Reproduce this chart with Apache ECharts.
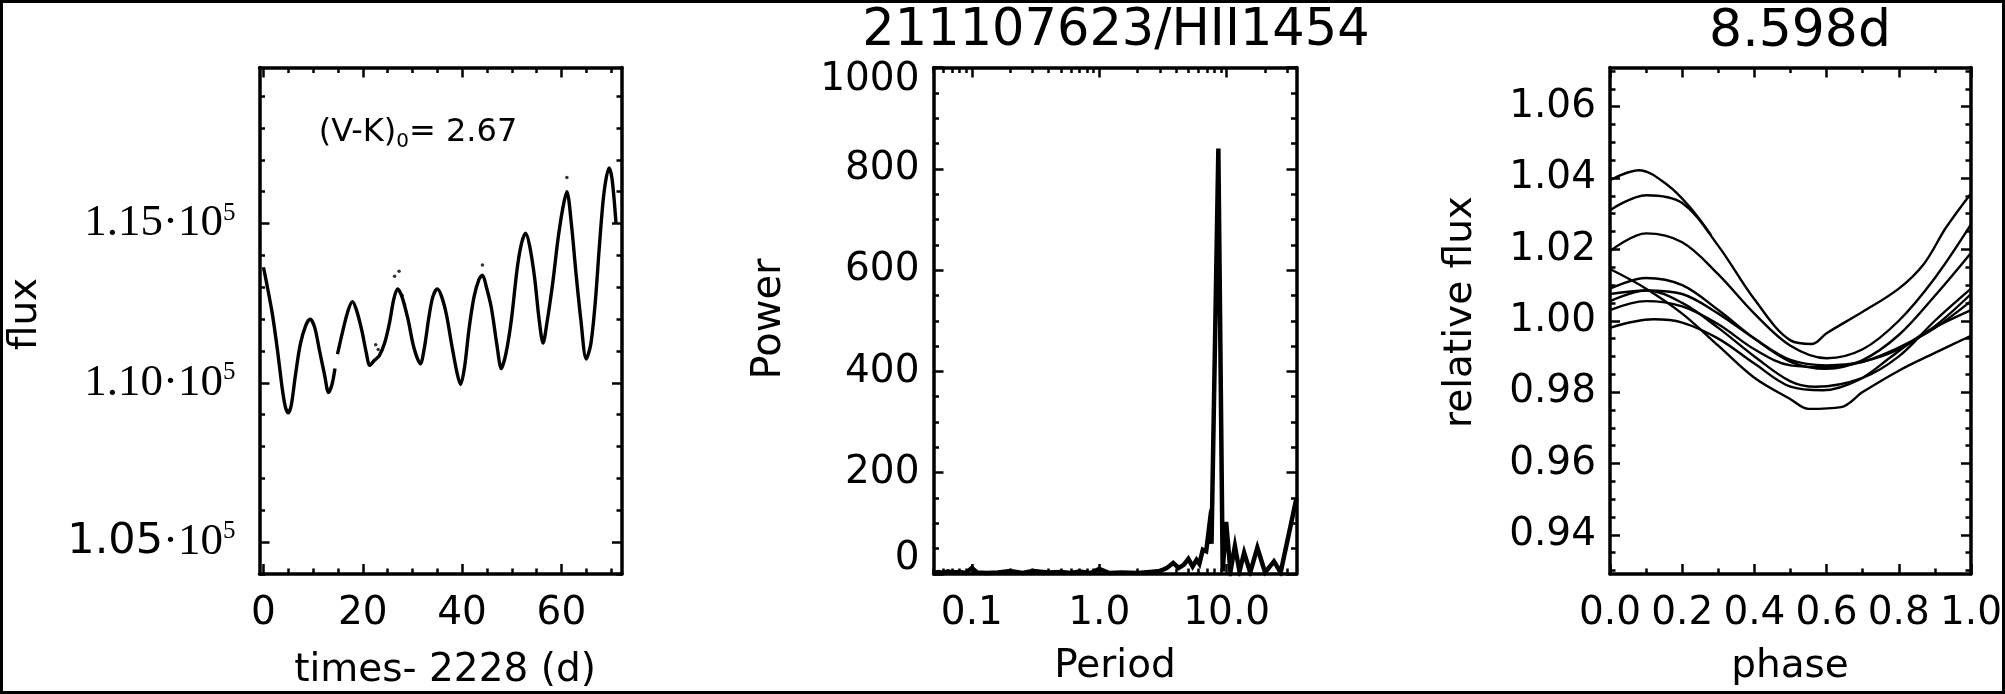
<!DOCTYPE html>
<html><head><meta charset="utf-8">
<script src="https://cdn.jsdelivr.net/npm/echarts@6/dist/echarts.min.js"></script>
<style>html,body{margin:0;padding:0;background:#fff}#c{width:2005px;height:694px}</style>
</head><body><div id="c"></div>
<script>
// ---------- Panel 1: light curve ----------
const lcTimes = [0.0,0.8,1.8,2.8,3.8,4.4,5.0,5.6,6.4,7.4,8.5,9.4,10.3,11.3,12.3,13.1,13.8,14.4,null,14.9,16.0,17.0,17.9,18.7,19.8,20.7,21.4,22.3,23.3,24.4,25.4,26.2,27.0,27.9,29.1,30.3,31.6,32.4,33.3,34.1,35.0,35.9,36.9,37.9,39.0,39.7,40.5,41.4,42.4,43.4,44.1,44.9,45.9,47.0,47.9,48.8,49.9,51.1,52.0,52.8,53.6,54.6,55.5,56.3,57.1,58.3,59.3,60.3,61.1,62.0,62.9,63.9,65.0,65.9,66.8,67.7,68.6,69.6,70.2,71.0];
const lcFlux = [113630,113000,112150,111050,109800,109250,109060,109300,110200,111200,111800,112000,111750,111000,110250,109700,109950,110450,null,110900,111650,112250,112550,112300,111650,110950,110550,110700,110850,111250,111900,112600,112950,112700,112000,111100,110600,111100,112050,112700,112950,112700,112100,111200,110300,109950,110500,111700,112700,113250,113380,113000,112350,111200,110450,110900,111950,113600,114400,114700,114300,113300,112000,111250,111900,113200,114500,115500,116000,115000,113500,112000,110750,111200,112500,114400,116000,116750,116400,115000];
const lcOutlierTimes = [22.6,23.1,26.4,27.3,27.9,28.4,44.1,61.1];
const lcOutlierFlux = [111200,111050,113350,113500,112750,112450,113700,116450];
const lcXTicks = [0,20,40,60];
const lcXMinor = [0,5,10,15,20,25,30,35,40,45,50,55,60,65,70];
const lcYTicks = [105000,110000,115000];
const lcYMinor = [104000,105000,106000,107000,108000,109000,110000,111000,112000,113000,114000,115000,116000,117000,118000,119000];

// ---------- Panel 2: periodogram ----------
const psPeriod = [0.05,0.055,0.06,0.065,0.07,0.08,0.09,0.1,0.11,0.13,0.16,0.2,0.25,0.3,0.4,0.5,0.6,0.7,0.85,1.0,1.2,1.5,2.0,2.5,3.0,3.4,3.8,4.2,4.6,5.0,5.4,5.8,6.1,6.5,6.9,7.3,7.6,8.6,9.3,9.9,10.7,11.6,12.6,13.7,15.3,17.4,20.0,23.5,26.5,35.3];
const psPower = [2,4,2,5,3,4,2,12,3,2,3,6,2,6,3,4,2,5,2,10,2,3,2,4,6,12,22,12,18,30,15,28,20,48,45,95,60,840,5,103,5,55,5,42,3,52,3,25,3,150];
const psXTicks = [0.1,1,10];
const psXMinor = [0.05,0.06,0.07,0.08,0.09,0.1,0.2,0.3,0.4,0.5,0.6,0.7,0.8,0.9,1,2,3,4,5,6,7,8,9,10,20,30];
const psYTicks = [0,200,400,600,800,1000];
const psYMinor = [0,50,100,150,200,250,300,350,400,450,500,550,600,650,700,750,800,850,900,950,1000];

// ---------- Panel 3: phased light curve (one strand per cycle) ----------
const cyclePhase = [
  [0.0,0.1,0.2,0.3,0.4,0.5,0.55,0.64,0.7,0.8,0.9,1.0],
  [0.0,0.12,0.2,0.3,0.4,0.5,0.59,0.69,0.78,0.87,1.0],
  [0.0,0.1,0.2,0.3,0.4,0.5,0.6,0.7,0.8,0.9,1.0],
  [0.0,0.1,0.2,0.3,0.4,0.5,0.6,0.7,0.8,0.9,1.0],
  [0.0,0.1,0.2,0.3,0.4,0.5,0.57,0.7,0.8,0.9,1.0],
  [0.0,0.1,0.2,0.3,0.4,0.5,0.6,0.7,0.8,0.9,1.0],
  [0.0,0.1,0.2,0.3,0.4,0.5,0.6,0.7,0.8,0.9,1.0],
  [0.0,0.1,0.2,0.3,0.4,0.5,0.56,0.6,0.7,0.8,0.87,0.93,1.0],
  [0.0,0.08,0.16,0.22,0.28]
];
const cycleRel = [
  [1.0145,1.009,1.002,0.993,0.984,0.978,0.9753,0.9758,0.980,0.986,0.991,0.9958],
  [0.998,1.0004,0.9995,0.995,0.988,0.9815,0.9805,0.9835,0.990,0.9965,1.003],
  [1.003,1.0055,1.004,0.999,0.992,0.9875,0.987,0.9885,0.9925,0.998,1.0055],
  [1.0055,1.0085,1.0075,1.002,0.995,0.989,0.9875,0.9885,0.992,0.9985,1.0075],
  [1.0075,1.0085,1.005,0.998,0.990,0.983,0.9815,0.984,0.990,1.000,1.009],
  [1.009,1.012,1.010,1.003,0.995,0.9885,0.9865,0.989,0.996,1.007,1.019],
  [1.0195,1.0245,1.022,1.013,1.002,0.993,0.9895,0.992,1.000,1.012,1.027],
  [1.031,1.0352,1.033,1.021,1.006,0.9945,0.9935,0.9965,1.0025,1.009,1.016,1.026,1.0357],
  [1.0394,1.0422,1.038,1.032,1.024]
];
const phXTicks = [0,0.2,0.4,0.6,0.8,1.0];
const phXMinor = [0,0.1,0.2,0.3,0.4,0.5,0.6,0.7,0.8,0.9,1.0];
const phYTicks = [0.94,0.96,0.98,1.00,1.02,1.04,1.06];
const phYMinor = [0.93,0.935,0.94,0.945,0.95,0.955,0.96,0.965,0.97,0.975,0.98,0.985,0.99,0.995,1.0,1.005,1.01,1.015,1.02,1.025,1.03,1.035,1.04,1.045,1.05,1.055,1.06,1.065,1.07];

// ---------- layout / styling ----------
const FONT = 'DejaVu Sans';
const LW = 3.5, MAJ = 10, MIN = 5.5;
const grids = [
  {left:259.5, top:67.5, width:362.5, height:506.5},
  {left:933.5, top:67.5, width:363, height:506.5},
  {left:1610, top:67.5, width:361.5, height:506.5}
];
const lineStyle = {color:'#000', width:LW};

function tickAxes(kind, gi, min, max, major, minor, labelOpt, type) {
  const sides = kind === 'x' ? ['bottom','top'] : ['left','right'];
  const axes = [];
  sides.forEach((pos, si) => {
    axes.push({
      type: type || 'value', gridIndex: gi, position: pos, min, max,
      axisLine: {show: true, onZero: false, lineStyle},
      axisTick: {show: true, inside: true, length: MAJ, customValues: major, lineStyle: {color:'#000', width: 2.5}},
      axisLabel: (si === 0 && labelOpt) ? Object.assign({show: true, customValues: major, color:'#000', fontFamily: FONT, fontSize: 39}, labelOpt) : {show: false},
      splitLine: {show: false}
    });
    axes.push({
      type: 'value', gridIndex: gi, position: pos, min, max,
      axisLine: {show: false, onZero: false},
      axisTick: {show: true, inside: true, length: MIN, customValues: minor, lineStyle: {color:'#000', width: 2.5}},
      axisLabel: {show: false}, splitLine: {show: false}
    });
  });
  return axes;
}

const xAxes = [], yAxes = [];
// panel 1
const lcXmin = -0.8, lcXmax = 72.2, lcYmin = 104000, lcYmax = 119900;
xAxes.push(...tickAxes('x', 0, lcXmin, lcXmax, lcXTicks, lcXMinor, {margin: 20, formatter: v => String(Math.round(v))}));
yAxes.push(...tickAxes('y', 0, lcYmin, lcYmax, lcYTicks, lcYMinor, {
  margin: 24,
  formatter: v => {
    const m = (v/1e5).toFixed(2);
    return v === 105000 ? '{b|' + m + '}{a|·10}{s|5}' : '{a|' + m + '·10}{s|5}';
  },
  rich: {
    a: {fontFamily: 'Liberation Serif', fontSize: 45, color: '#000', lineHeight: 46},
    b: {fontFamily: FONT, fontSize: 43, color: '#000', lineHeight: 46},
    s: {fontFamily: 'Liberation Serif', fontSize: 25, color: '#000', verticalAlign: 'top', lineHeight: 30}
  }
}));
// panel 2 (log period)
const lg = Math.log10;
const psXmin = 0.05, psXmax = 35.3;
xAxes.push(...tickAxes('x', 1, lg(psXmin), lg(psXmax), psXTicks.map(lg), psXMinor.map(lg), {margin: 20, formatter: v => Math.pow(10, v).toFixed(1)}));
const psDataXIndex = xAxes.length;
xAxes.push({type: 'log', gridIndex: 1, position: 'bottom', min: psXmin, max: psXmax, show: false, axisLine:{show:false}, axisTick:{show:false}, axisLabel:{show:false}, splitLine:{show:false}});
yAxes.push(...tickAxes('y', 1, 0, 1000, psYTicks, psYMinor, {
  margin: 14,
  formatter: v => v === 1000 ? '{t|1000}' : (v === 0 ? '{d|0}' : '{n|' + v + '}'),
  rich: {
    n: {fontFamily: FONT, fontSize: 39, color: '#000'},
    t: {fontFamily: FONT, fontSize: 39, color: '#000', padding: [24,0,0,0]},
    d: {fontFamily: FONT, fontSize: 39, color: '#000', padding: [0,0,30,0]}
  }
}));
// panel 3
const phYmin = 0.929, phYmax = 1.071;
xAxes.push(...tickAxes('x', 2, 0, 1, phXTicks, phXMinor, {margin: 20, formatter: v => v.toFixed(1)}));
yAxes.push(...tickAxes('y', 2, phYmin, phYmax, phYTicks, phYMinor, {margin: 14, formatter: v => v.toFixed(2)}));

const series = [];
series.push({type: 'line', xAxisIndex: 0, yAxisIndex: 0, data: lcTimes.map((t, i) => [t, lcFlux[i]]),
  symbol: 'none', smooth: 0.3, connectNulls: false, lineStyle: {color: '#000', width: 3.4}, silent: true});
series.push({type: 'scatter', xAxisIndex: 0, yAxisIndex: 0, data: lcOutlierTimes.map((t, i) => [t, lcOutlierFlux[i]]),
  symbol: 'circle', symbolSize: 3.5, itemStyle: {color: '#000'}, silent: true});
series.push({type: 'line', xAxisIndex: psDataXIndex, yAxisIndex: 4, data: psPeriod.map((p, i) => [p, psPower[i]]),
  symbol: 'none', lineStyle: {color: '#000', width: 4.5, join: 'miter'}, silent: true});
cyclePhase.forEach((ph, k) => {
  series.push({type: 'line', xAxisIndex: psDataXIndex + 1, yAxisIndex: 8, data: ph.map((p, i) => [p, cycleRel[k][i]]),
    symbol: 'none', smooth: 0.35, lineStyle: {color: '#000', width: 2.4}, silent: true});
});

const txt = (text, x, y, size, rot) => ({type: 'text', x, y, rotation: rot || 0,
  style: {text, fill: '#000', font: size + 'px "' + FONT + '"', textAlign: 'center', textVerticalAlign: 'middle'}, silent: true});

const option = {
  animation: false,
  backgroundColor: '#fff',
  grid: grids.map(g => Object.assign({containLabel: false}, g)),
  xAxis: xAxes,
  yAxis: yAxes,
  series,
  graphic: [
    {type: 'rect', shape: {x: 1.5, y: 1.5, width: 2002, height: 691}, style: {fill: 'none', stroke: '#000', lineWidth: 3}, silent: true},
    txt('211107623/HII1454', 1116, 32, 51),
    txt('8.598d', 1800, 32, 52),
    txt('flux', 26, 314, 39, Math.PI/2),
    txt('Power', 770, 319, 40, Math.PI/2),
    txt('relative flux', 1461, 312, 39, Math.PI/2),
    txt('times- 2228 (d)', 445, 671, 39),
    txt('Period', 1115, 667, 39),
    txt('phase', 1790, 667, 39),
    {type: 'text', x: 418, y: 133, style: {text: '{m|(V-K)}{s|0}{m|= 2.67}', fill: '#000', textAlign: 'center', textVerticalAlign: 'middle',
      rich: {m: {fontFamily: FONT, fontSize: 32, fill: '#000', lineHeight: 38}, s: {fontFamily: FONT, fontSize: 20, fill: '#000', verticalAlign: 'bottom', lineHeight: 22}}}, silent: true}
  ]
};
const chart = echarts.init(document.getElementById('c'), null, {renderer: 'canvas'});
chart.setOption(option);
</script></body></html>
